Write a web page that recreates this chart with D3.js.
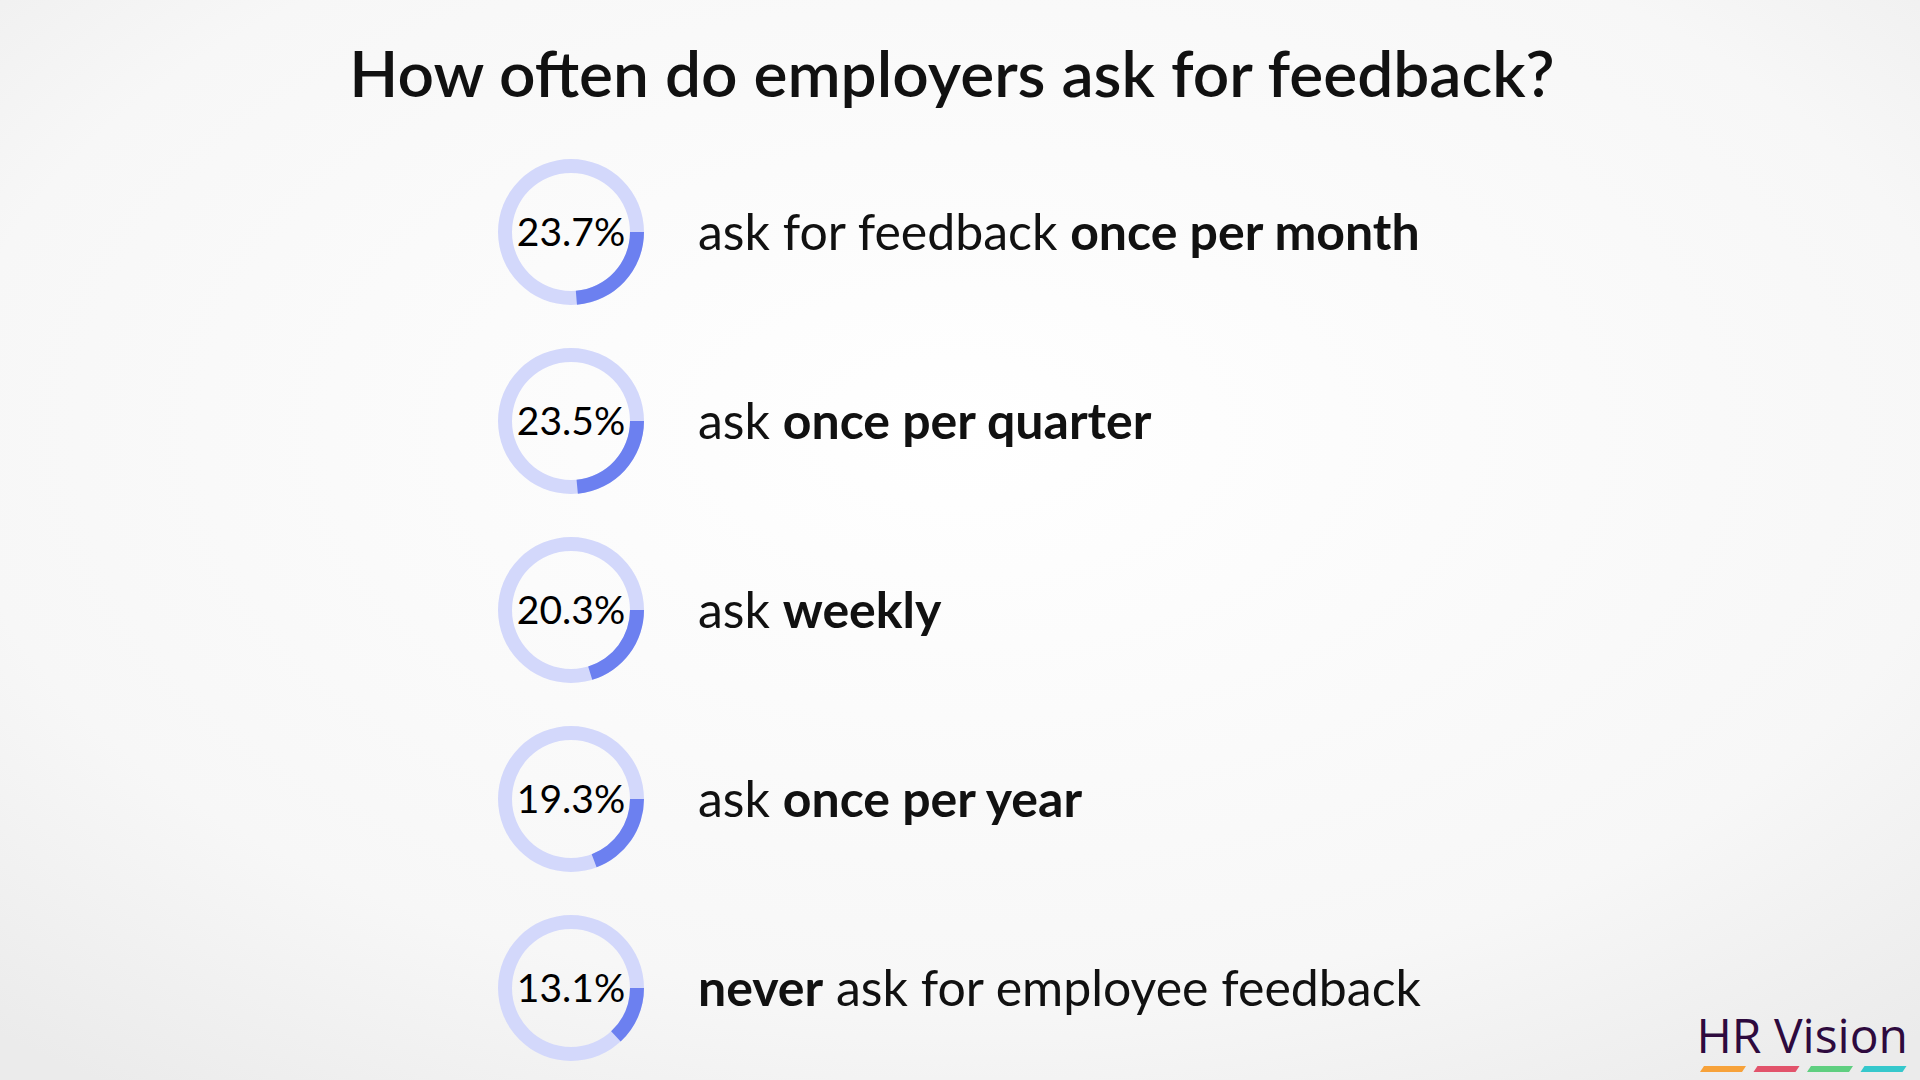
<!DOCTYPE html>
<html><head><meta charset="utf-8">
<script src="https://cdn.jsdelivr.net/npm/d3@7"></script>
<style>html,body{margin:0;padding:0;}</style>
</head><body>
<script>
const values = [23.7, 23.5, 20.3, 19.3, 13.1];
const labelPlain1 = ["ask for feedback ", "ask ", "ask ", "ask ", ""];
const labelBold = ["once per month", "once per quarter", "weekly", "once per year", "never"];
const labelPlain2 = ["", "", "", "", " ask for employee feedback"];
const title = "How often do employers ask for feedback?";
const logoColors = ["#f7a23a", "#e2536b", "#5fcf80", "#35c8cc"];

const W = 1920, H = 1080;
const svg = d3.select("body").append("svg").attr("width", W).attr("height", H);
const defs = svg.append("defs");
const rg = defs.append("radialGradient").attr("id","bg").attr("cx","50%").attr("cy","40%").attr("r","75%");
rg.append("stop").attr("offset","0%").attr("stop-color","#ffffff");
rg.append("stop").attr("offset","70%").attr("stop-color","#f7f7f7");
rg.append("stop").attr("offset","100%").attr("stop-color","#ebebeb");
svg.append("rect").attr("width",W).attr("height",H).attr("fill","url(#bg)");

svg.append("text").attr("x", 952).attr("y", 97).attr("text-anchor","middle")
  .attr("font-family","Lato").attr("font-weight",600).attr("font-size",64).attr("fill","#111").text(title);

const y = d3.scalePoint().domain(d3.range(values.length)).range([232, 988]);
const ang = d3.scaleLinear().domain([0,100]).range([0, 2*Math.PI]);
const arc = d3.arc().innerRadius(59).outerRadius(73);
const cx = 571;

const rows = svg.selectAll("g.row").data(values).join("g").attr("class","row")
  .attr("transform",(d,i)=>`translate(${cx},${y(i)})`);
rows.append("path").attr("d", arc({startAngle:0,endAngle:2*Math.PI})).attr("fill","#d3d8fb");
rows.append("path").attr("d", d=>arc({startAngle:Math.PI/2,endAngle:Math.PI/2+ang(d)})).attr("fill","#6c80f0");
rows.append("text").attr("text-anchor","middle").attr("dy","0.36em")
  .attr("font-family","Lato").attr("font-size",39).attr("fill","#000")
  .text(d=>d.toFixed(1)+"%");

const lab = svg.selectAll("text.lab").data(values).join("text").attr("class","lab")
  .attr("x", 698).attr("y",(d,i)=>y(i)).attr("dy","0.36em")
  .attr("font-family","Lato").attr("font-size",50).attr("fill","#111");
lab.append("tspan").text((d,i)=>labelPlain1[i]);
lab.append("tspan").attr("font-weight",700).text((d,i)=>labelBold[i]);
lab.append("tspan").text((d,i)=>labelPlain2[i]);

svg.append("text").attr("x",1908).attr("y",1053).attr("text-anchor","end")
  .attr("font-family","Open Sans").attr("font-size",48).attr("fill","#2e0a3e").text("HR Vision");
svg.selectAll("path.stripe").data(logoColors).join("path").attr("class","stripe")
  .attr("d",(c,i)=>{const x=1700+i*53.5; return `M${x+4},1066 L${x+46},1066 L${x+42},1072 L${x},1072 Z`;})
  .attr("fill",c=>c);
</script>
</body></html>
